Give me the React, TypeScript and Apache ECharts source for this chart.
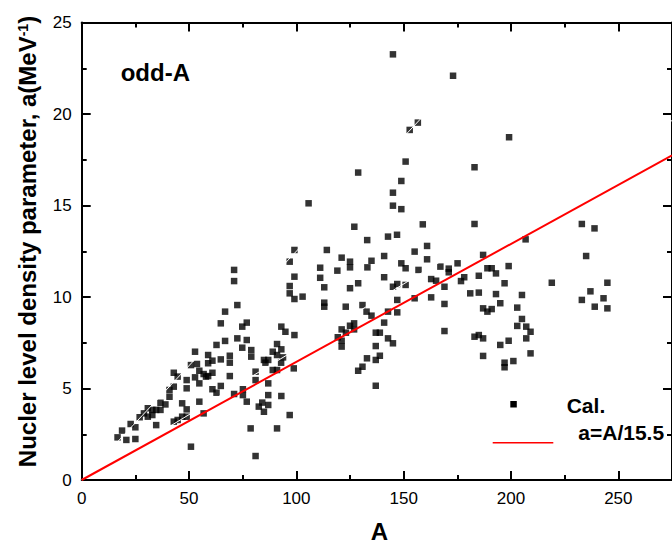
import React, { useEffect, useRef } from "react";
import * as echarts from "echarts";

// Mass number A of each odd-A nucleus
const MASS_NUMBER = [
  16.7, 18.8, 20.8, 22.8, 25.0, 25.0, 27.0, 29.0, 30.8, 30.8, 32.9, 32.9, 34.7, 34.7, 36.7, 36.7,
  39.0, 40.9, 40.9, 42.9, 42.9, 42.9, 44.7, 44.7, 46.8, 46.8, 48.9, 48.9, 48.9, 48.9, 50.9, 50.9,
  52.8, 52.8, 53.7, 54.8, 54.8, 54.8, 56.8, 56.8, 57.9, 58.9, 58.9, 58.9, 60.9, 60.9, 60.9, 62.8,
  62.8, 64.8, 64.8, 64.8, 66.8, 66.8, 69.0, 69.0, 69.0, 71.0, 72.5, 72.5,
  99.1, 114.2, 96.9, 71.0, 71.0, 99.1, 111.1, 111.1, 113.0, 96.9, 96.9, 99.1, 102.9, 113.0, 113.0,
  76.9, 74.8, 93.0, 94.9, 99.1, 76.9, 74.8, 79.0, 91.0, 93.0, 89.0, 91.0, 79.0, 84.9, 86.9, 85.6,
  93.8, 92.9, 81.0, 89.0, 91.0, 98.8, 81.0, 86.9, 75.1, 75.1, 86.9, 93.0, 76.9, 84.1, 82.5, 86.9,
  84.9, 96.9, 78.7, 91.0, 81.0,
  150.9, 128.8, 148.9, 145.0, 145.0, 148.9, 105.7, 158.9, 127.0, 133.0, 142.7, 146.9, 160.9, 155.1,
  121.1, 125.0, 135.0, 140.9, 160.9, 125.0, 133.1, 119.1, 148.9, 150.9, 156.9, 167.1, 171.0, 171.0,
  175.1, 140.9, 162.8, 165.1, 178.2, 176.7, 128.8, 125.0, 145.0, 147.0, 150.9, 169.0, 162.8, 155.1,
  123.0, 130.8, 132.7, 135.0, 147.0, 142.7, 147.0, 169.0, 140.9, 126.9, 125.0, 121.1, 123.1, 126.9,
  169.0, 119.3, 121.1, 121.1, 137.0, 138.9, 142.7, 145.0, 137.0, 138.9, 137.0, 132.9, 130.8, 128.8,
  137.0,
  145.0, 173.0, 156.6, 152.8, 199.1, 183.0, 183.0, 206.8,
  187.0, 189.0, 191.0, 193.0, 198.9, 185.0, 197.0, 219.0, 181.0, 185.0, 193.0, 205.1, 195.0, 187.0,
  189.0, 191.0, 202.9, 205.1, 202.9, 207.1, 209.1, 207.1, 183.0, 185.0, 187.0, 195.0, 198.9, 209.1,
  187.0, 197.0, 197.0, 201.1,
  233.0, 238.9, 235.0, 244.9, 237.0, 243.1, 233.0, 239.0, 244.9,
];

// Level density parameter a (MeV^-1) for each nucleus, same order
const LEVEL_DENSITY = [
  2.33, 2.7, 2.19, 3.06, 2.88, 2.24, 3.43, 3.64, 3.92, 3.46, 3.83, 3.55, 3.0, 3.83, 4.22, 3.83,
  4.13, 4.55, 4.92, 5.86, 5.1, 3.19, 5.65, 3.28, 4.19, 3.46, 5.46, 5.01, 3.86, 3.46, 1.82, 6.28,
  7.01, 5.61, 6.34, 5.97, 5.28, 4.28, 5.79, 3.64, 5.65, 6.83, 6.38, 5.68, 6.52, 5.86, 4.96, 7.38,
  4.77, 8.56, 6.59, 5.14, 9.2, 7.6, 6.79, 6.41, 5.68, 4.7, 9.56, 7.74,
  12.57, 12.57, 11.93, 11.48, 10.87, 11.11, 11.6, 11.05, 10.53, 10.6, 10.2, 9.89, 10.02, 9.69, 9.47,
  8.6, 8.38, 8.38, 8.1, 7.92, 7.65, 7.23, 7.1, 7.43, 7.14, 7.01, 6.83, 6.74, 6.56, 6.56, 6.41,
  6.7, 6.41, 5.92, 6.01, 6.01, 6.1, 5.46, 5.28, 4.96, 4.64, 4.64, 4.59, 4.28, 4.23, 4.01, 4.1,
  3.73, 3.55, 2.82, 2.82, 1.31,
  17.4, 16.8, 16.34, 15.7, 14.99, 14.8, 15.12, 13.97, 13.84, 13.11, 13.3, 13.4, 12.79, 12.48,
  12.15, 11.93, 11.98, 12.24, 12.06, 11.62, 11.62, 11.44, 11.84, 11.57, 11.48, 11.66, 11.55, 11.35,
  11.84, 11.08, 10.98, 10.89, 11.08, 10.87, 10.75, 10.48, 10.56, 10.71, 10.66, 10.56, 9.98, 9.93,
  9.47, 9.56, 9.2, 8.98, 9.84, 9.2, 9.16, 9.62, 8.6, 8.56, 8.43, 8.23, 8.05, 8.23,
  8.14, 7.8, 7.61, 7.29, 8.05, 8.05, 7.74, 7.47, 7.32, 6.79, 6.56, 6.65, 6.19, 5.97,
  5.15,
  23.26, 22.09, 19.53, 19.13, 18.73, 17.09, 13.99, 13.15,
  12.3, 11.57, 11.57, 11.29, 11.69, 11.16, 10.75, 10.78, 10.2, 10.24, 10.16, 10.11, 9.66, 9.38,
  9.2, 9.34, 9.42, 8.8, 8.42, 8.38, 8.1, 7.74, 7.83, 7.92, 7.74, 7.38, 7.61, 6.92,
  6.78, 6.41, 6.16, 6.5,
  13.99, 13.75, 12.24, 10.78, 10.31, 9.93, 9.84, 9.47, 9.38,
];

const X_RANGE = [0, 275];
const Y_RANGE = [0, 25];
const X_MAJOR = 50;
const X_MINOR = 25;
const Y_MAJOR = 5;
const Y_MINOR = 2.5;

const CAL_DIVISOR = 15.5; // a = A / 15.5
const WHITE_LINE_DIVISORS = [8, 14];
const WHITE_LINE_ENDS = [195, 275];

const TITLE_TEXT = "odd-A";
const X_NAME = "A";
const Y_NAME_MAIN = "Nucler level density parameter, a(MeV";
const Y_NAME_SUP = "-1";
const LEGEND_POINTS = "Cal.";
const LEGEND_LINE = "a=A/15.5";

const FONT = "'Liberation Sans', Arial, Helvetica, sans-serif";

export default function App() {
  const ref = useRef<HTMLDivElement>(null);

  useEffect(() => {
    if (!ref.current) return;
    const chart = echarts.init(ref.current, undefined, { renderer: "svg" });

    const points = MASS_NUMBER.map((x, i) => [x, LEVEL_DENSITY[i]]);
    const calLine = [
      [X_RANGE[0], X_RANGE[0] / CAL_DIVISOR],
      [X_RANGE[1], X_RANGE[1] / CAL_DIVISOR],
    ];

    const lineStyle = { color: "#000", width: 2 };
    const mkX = (position: string, interval: number, major: boolean) => ({
      type: "value",
      gridIndex: 0,
      position,
      min: X_RANGE[0],
      max: X_RANGE[1],
      interval,
      axisLine: { show: major, onZero: false, lineStyle },
      axisTick: { show: true, inside: true, length: major ? 9 : 5, lineStyle },
      axisLabel: {
        show: major && position === "bottom",
        margin: 10,
        fontSize: 17,
        color: "#000",
        fontFamily: FONT,
        showMaxLabel: false,
      },
      splitLine: { show: false },
    });
    const mkY = (position: string, interval: number, major: boolean) => ({
      type: "value",
      gridIndex: 0,
      position,
      min: Y_RANGE[0],
      max: Y_RANGE[1],
      interval,
      axisLine: { show: major, onZero: false, lineStyle },
      axisTick: { show: true, inside: true, length: major ? 9 : 5, lineStyle },
      axisLabel: {
        show: major && position === "left",
        margin: 10,
        fontSize: 17,
        color: "#000",
        fontFamily: FONT,
      },
      splitLine: { show: false },
    });

    const whiteLines = WHITE_LINE_DIVISORS.map((d, i) => ({
      type: "line",
      xAxisIndex: 0,
      yAxisIndex: 0,
      data: [
        [0, 0],
        [WHITE_LINE_ENDS[i], WHITE_LINE_ENDS[i] / d],
      ],
      symbol: "none",
      lineStyle: { color: "#fff", width: 1 },
      z: 3,
      silent: true,
    }));

    chart.setOption({
      animation: false,
      grid: { left: 81.7, top: 22.5, width: 594, height: 457.5 },
      xAxis: [
        mkX("bottom", X_MAJOR, true),
        mkX("bottom", X_MINOR, false),
        mkX("top", X_MAJOR, true),
        mkX("top", X_MINOR, false),
      ],
      yAxis: [
        mkY("left", Y_MAJOR, true),
        mkY("left", Y_MINOR, false),
        mkY("right", Y_MAJOR, true),
        mkY("right", Y_MINOR, false),
      ],
      series: [
        {
          type: "scatter",
          xAxisIndex: 0,
          yAxisIndex: 0,
          data: points,
          symbol: "rect",
          symbolSize: 6.5,
          itemStyle: { color: "#000" },
          z: 2,
        },
        ...whiteLines,
        {
          type: "line",
          xAxisIndex: 0,
          yAxisIndex: 0,
          data: calLine,
          symbol: "none",
          lineStyle: { color: "#ff0000", width: 2 },
          z: 4,
        },
      ],
      graphic: [
        {
          type: "text",
          x: 120.7,
          y: 72,
          style: {
            text: TITLE_TEXT,
            font: `bold 24px ${FONT}`,
            fill: "#000",
            align: "left",
            verticalAlign: "middle",
          },
        },
        {
          type: "text",
          x: 379.4,
          y: 531.7,
          style: {
            text: X_NAME,
            font: `bold 24px ${FONT}`,
            fill: "#000",
            align: "center",
            verticalAlign: "middle",
          },
        },
        {
          type: "text",
          x: 27.5,
          y: 241.5,
          rotation: Math.PI / 2,
          style: {
            text: `{b|${Y_NAME_MAIN}}{s|${Y_NAME_SUP}}{b|)}`,
            align: "center",
            verticalAlign: "middle",
            rich: {
              b: { fontSize: 24, fontWeight: "bold", fontFamily: FONT, fill: "#000", color: "#000" },
              s: {
                fontSize: 14,
                fontWeight: "bold",
                fontFamily: FONT,
                fill: "#000",
                color: "#000",
                verticalAlign: "top",
              },
            },
          },
        },
        {
          type: "rect",
          shape: { x: 510.3, y: 401, width: 6.5, height: 6.5 },
          style: { fill: "#000" },
        },
        {
          type: "text",
          x: 566.7,
          y: 405,
          style: {
            text: LEGEND_POINTS,
            font: `bold 21px ${FONT}`,
            fill: "#000",
            align: "left",
            verticalAlign: "middle",
          },
        },
        {
          type: "line",
          shape: { x1: 492.7, y1: 442.7, x2: 553.3, y2: 442.7 },
          style: { stroke: "#ff0000", lineWidth: 1.5 },
        },
        {
          type: "text",
          x: 578.3,
          y: 432.7,
          style: {
            text: LEGEND_LINE,
            font: `bold 21px ${FONT}`,
            fill: "#000",
            align: "left",
            verticalAlign: "middle",
          },
        },
      ],
    });

    return () => chart.dispose();
  }, []);

  return (
    <div
      ref={ref}
      style={{ position: "fixed", left: 0, top: 0, width: 672, height: 546, background: "#fff" }}
    />
  );
}
